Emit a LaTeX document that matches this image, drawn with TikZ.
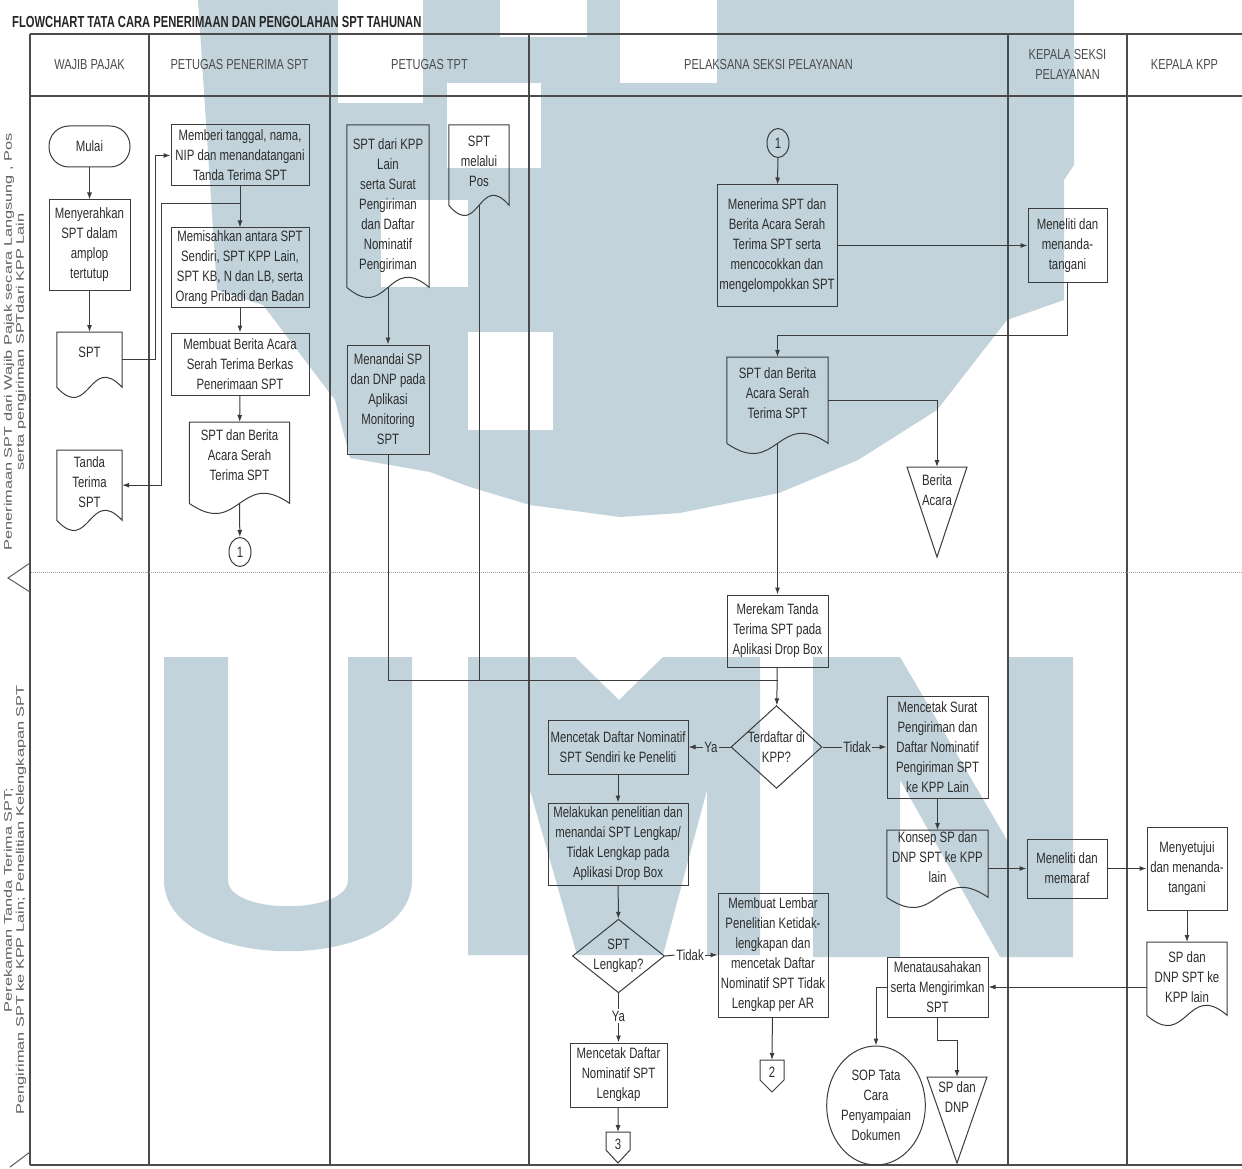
\documentclass[tikz,border=0pt]{standalone}
\usepackage{fontspec}
\setmainfont[FakeStretch=0.76]{Liberation Sans}
\newfontfamily\judulfont[FakeStretch=0.7]{Liberation Sans}
\newfontfamily\fasefont[FakeStretch=1.48]{Liberation Sans}
\usetikzlibrary{arrows.meta,shapes.geometric,calc}

\definecolor{garis}{RGB}{60,60,60}
\definecolor{tulisan}{RGB}{45,45,45}
\definecolor{warnabingkai}{RGB}{75,75,75}
\definecolor{abu}{RGB}{95,95,95}
\definecolor{umn}{RGB}{194,211,220}

\tikzset{
  txt/.style={font=\fontsize{15}{20}\selectfont, text=tulisan, align=center},
  lin/.style={draw=garis, line width=1pt},
  arr/.style={lin, -{Latex[length=7pt,width=5pt]}},
  proses/.style={txt, lin, rectangle, inner sep=1pt},
  mulaibox/.style={txt, lin, rectangle, rounded corners=20pt, inner sep=1pt},
  keputusan/.style={txt, lin, diamond, inner sep=0pt},
  sambung/.style={txt, lin, ellipse, inner sep=0pt, minimum width=22pt, minimum height=29pt},
  dokumen/.style={rectangle, inner sep=0pt, anchor=north},
  doktxt/.style={txt, anchor=north, inner sep=0pt},
  ket/.style={txt, inner sep=1.5pt},
  kepala/.style={txt, font=\fontsize{14.5}{20}\selectfont, text=abu!80!black},
  fase/.style={font=\fasefont\fontsize{11}{12}\selectfont, text=abu, align=center, rotate=90},
  bingkai/.style={draw=warnabingkai, line width=1.5pt},
  sekat/.style={draw=abu!60, line width=1pt, densely dotted},
}

\begin{document}
\begin{tikzpicture}[x=1pt, y=-1pt]
  \useasboundingbox (0,0) rectangle (1242,1169);
  \fill[white] (0,0) rectangle (1242,1169);

  % watermark
  \fill[umn] (198,0) -- (1074,0) -- (1074,165) -- (1064,180) -- (1064,300) -- (1007,320) -- (937,410) -- (858,460) -- (779,493) -- (680,513) -- (620,517) -- (530,505) -- (470,487) -- (430,472) -- (350,458) -- (335,400) -- (263,305) -- (217,290) -- cycle;
  \fill[white] (338,0) rectangle (423,103);
  \fill[white] (500,0) rectangle (587,37);
  \fill[white] (447,83) rectangle (541,168);
  \fill[white] (381,200) rectangle (468,287);
  \fill[white] (468,332) rectangle (553,430);
  \fill[white] (620,0) rectangle (717,83);
  \fill[umn] (164,657) -- (164,880) .. controls (164,975) and (412,975) .. (412,880) -- (412,657) -- (348,657) -- (348,880) .. controls (348,915) and (228,915) .. (228,880) -- (228,657) -- cycle;
  \fill[umn] (468,657) -- (575,657) -- (619,700) -- (663,657) -- (760,657) -- (760,955) -- (707,955) -- (707,790) -- (663,955) -- (577,955) -- (530,790) -- (530,955) -- (468,955) -- cycle;
  \fill[umn] (813,657) -- (900,657) -- (1007,840) -- (1007,657) -- (1073,657) -- (1073,957) -- (1000,957) -- (900,780) -- (900,957) -- (813,957) -- cycle;

  % title
  \node[anchor=west, inner sep=0pt, font=\judulfont\bfseries\fontsize{16}{18}\selectfont, text=black!85] (judul) at (12,22) {FLOWCHART TATA CARA PENERIMAAN DAN PENGOLAHAN SPT TAHUNAN};

  % swimlanes
  \draw[bingkai] (30,34) -- (1242,34);
  \draw[bingkai] (30,96) -- (1242,96);
  \draw[bingkai] (30,1165) -- (1242,1165);
  \draw[bingkai] (30,34) -- (30,1165);
  \foreach \x in {149,330,529,1008,1127} {
    \draw[bingkai] (\x,34) -- (\x,1165);
  }
  \draw[sekat] (31,572) -- (1242,572);

  % lane headers
  \node[kepala] (hwp) at (89.5,65) {WAJIB PAJAK};
  \node[kepala] (hpenerima) at (239.5,65) {PETUGAS PENERIMA SPT};
  \node[kepala] (htpt) at (429.5,65) {PETUGAS TPT};
  \node[kepala] (hpelaksana) at (768.5,65) {PELAKSANA SEKSI PELAYANAN};
  \node[kepala] (hkasi) at (1067.5,64) {KEPALA SEKSI\\PELAYANAN};
  \node[kepala] (hkpp) at (1184.5,65) {KEPALA KPP};

  % phases
  \node[fase] (fase1) at (15,342) {Penerimaan SPT dari Wajib Pajak secara Langsung , Pos\\serta pengiriman SPTdari KPP Lain};
  \node[fase] (fase2) at (15,900) {Perekaman Tanda Terima SPT;\\Pengiriman SPT ke KPP Lain; Penelitian Kelengkapan SPT};
  \draw[lin, draw=abu] (30,563) -- (8,578) -- (30,592);
  \draw[lin, draw=abu] (30,1152) -- (10,1167);

  % wajib pajak
  \node[mulaibox, minimum width=81, minimum height=41] (mulai) at (89.5,146.5) {Mulai};
  \node[proses, minimum width=81, minimum height=90] (serah) at (89.5,245) {Menyerahkan\\SPT dalam\\amplop\\tertutup};
  \node[dokumen, minimum width=65, minimum height=55] (spt) at (89.5,332) {};
  \node[doktxt] (sptT) at ($(spt.north)+(0,15)$) {SPT};
  \node[dokumen, minimum width=65, minimum height=70] (tanda) at (89.5,450) {};
  \node[doktxt] (tandaT) at ($(tanda.north)+(0,6)$) {Tanda\\Terima\\SPT};

  % petugas penerima
  \node[proses, minimum width=138, minimum height=61] (memberi) at (240,155.5) {Memberi tanggal, nama,\\NIP dan menandatangani\\Tanda Terima SPT};
  \node[proses, minimum width=138, minimum height=79] (pisah) at (240,267.5) {Memisahkan antara SPT\\Sendiri, SPT KPP Lain,\\SPT KB, N dan LB, serta\\Orang Pribadi dan Badan};
  \node[proses, minimum width=138, minimum height=62] (berita) at (240,364) {Membuat Berita Acara\\Serah Terima Berkas\\Penerimaan SPT};
  \node[dokumen, minimum width=100, minimum height=81] (sptba1) at (239.5,422) {};
  \node[doktxt] (sptba1T) at ($(sptba1.north)+(0,7)$) {SPT dan Berita\\Acara Serah\\Terima SPT};
  \node[sambung] (con1a) at (240,552) {1};

  % petugas tpt
  \node[dokumen, minimum width=82, minimum height=162] (kpplain) at (388,125) {};
  \node[doktxt] (kpplainT) at ($(kpplain.north)+(0,13)$) {SPT dari KPP\\Lain\\serta Surat\\Pengiriman\\dan Daftar\\Nominatif\\Pengiriman};
  \node[dokumen, minimum width=60, minimum height=80] (pos) at (479,125) {};
  \node[doktxt] (posT) at ($(pos.north)+(0,11)$) {SPT\\melalui\\Pos};
  \node[proses, minimum width=82, minimum height=109] (tandai) at (388,399.5) {Menandai SP\\dan DNP pada\\Aplikasi\\Monitoring\\SPT};

  % pelaksana seksi pelayanan
  \node[sambung] (con1b) at (778,143) {1};
  \node[proses, minimum width=120, minimum height=121] (terima) at (777,245.5) {Menerima SPT dan\\Berita Acara Serah\\Terima SPT serta\\mencocokkan dan\\mengelompokkan SPT};
  \node[dokumen, minimum width=101, minimum height=86] (sptba2) at (777.5,357) {};
  \node[doktxt] (sptba2T) at ($(sptba2.north)+(0,10)$) {SPT dan Berita\\Acara Serah\\Terima SPT};
  \coordinate (ba) at (937,467);
  \draw[lin] ($(ba)+(-30,0)$) -- ($(ba)+(30,0)$) -- ($(ba)+(0,90)$) -- cycle;
  \node[txt] (baT) at ($(ba)+(0,23)$) {Berita\\Acara};
  \node[proses, minimum width=101, minimum height=72] (merekam) at (777.5,631) {Merekam Tanda\\Terima SPT pada\\Aplikasi Drop Box};
  \node[keputusan, aspect=1.1] (daftar) at (776.5,747) {Terdaftar di\\KPP?};
  \node[proses, minimum width=140, minimum height=54] (cetak1) at (618,747) {Mencetak Daftar Nominatif\\SPT Sendiri ke Peneliti};
  \node[proses, minimum width=140, minimum height=82] (teliti2) at (618,844) {Melakukan penelitian dan\\menandai SPT Lengkap/\\Tidak Lengkap pada\\Aplikasi Drop Box};
  \node[keputusan, aspect=1.25] (lengkap) at (618.5,956) {SPT\\Lengkap?};
  \node[proses, minimum width=97, minimum height=64] (cetak2) at (618.5,1075) {Mencetak Daftar\\Nominatif SPT\\Lengkap};
  \coordinate (con3) at (618,1132);
  \draw[lin] ($(con3)+(-12,0)$) -- ($(con3)+(12,0)$) -- ($(con3)+(12,18)$) -- ($(con3)+(0,31)$) -- ($(con3)+(-12,18)$) -- cycle;
  \node[txt] (con3T) at ($(con3)+(0,12)$) {3};
  \node[proses, minimum width=110, minimum height=124] (lembar) at (773,955) {Membuat Lembar\\Penelitian Ketidak-\\lengkapan dan\\mencetak Daftar\\Nominatif SPT Tidak\\Lengkap per AR};
  \coordinate (con2) at (772,1060);
  \draw[lin] ($(con2)+(-12,0)$) -- ($(con2)+(12,0)$) -- ($(con2)+(12,20)$) -- ($(con2)+(0,32)$) -- ($(con2)+(-12,20)$) -- cycle;
  \node[txt] (con2T) at ($(con2)+(0,12)$) {2};
  \node[proses, minimum width=101, minimum height=102] (surat) at (937.5,747) {Mencetak Surat\\Pengiriman dan\\Daftar Nominatif\\Pengiriman SPT\\ke KPP Lain};
  \node[dokumen, minimum width=101, minimum height=67] (konsep) at (937.5,830) {};
  \node[doktxt] (konsepT) at ($(konsep.north)+(0,1)$) {Konsep SP dan\\DNP SPT ke KPP\\lain};
  \node[proses, minimum width=101, minimum height=60] (tatausaha) at (937.5,987) {Menatausahakan\\serta Mengirimkan\\SPT};
  \node[txt, lin, ellipse, inner sep=0pt, minimum width=82, minimum height=119] (sop) at (876,1105.5) {SOP Tata\\Cara\\Penyampaian\\Dokumen};
  \coordinate (spdn) at (957,1077);
  \draw[lin] ($(spdn)+(-30,0)$) -- ($(spdn)+(30,0)$) -- ($(spdn)+(0,86)$) -- cycle;
  \node[txt] (spdnT) at ($(spdn)+(0,20)$) {SP dan\\DNP};

  % kepala seksi and kepala kpp
  \node[proses, minimum width=79, minimum height=73] (teliti1) at (1067.5,245.5) {Meneliti dan\\menanda-\\tangani};
  \node[proses, minimum width=80, minimum height=59] (paraf) at (1067,868.5) {Meneliti dan\\memaraf};
  \node[proses, minimum width=80, minimum height=83] (setuju) at (1187,868.5) {Menyetujui\\dan menanda-\\tangani};
  \node[dokumen, minimum width=80, minimum height=73] (spdnp) at (1187,942) {};
  \node[doktxt] (spdnpT) at ($(spdnp.north)+(0,9)$) {SP dan\\DNP SPT ke\\KPP lain};

  % document outlines
  \foreach \d in {spt,tanda,sptba1,kpplain,pos,sptba2,konsep,spdnp} {
    \draw[lin] (\d.south west) -- (\d.north west) -- (\d.north east) -- (\d.south east)
      .. controls ($(\d.south)+(0,-35)$) and ($(\d.south)+(0,35)$) .. (\d.south west);
  }

  % connectors
  \draw[arr] (mulai) -- (serah);
  \draw[arr] (serah) -- (spt);
  \draw[arr] (spt.east) -- ++(33,0) |- (memberi.west);
  \draw[arr] (memberi) -- (pisah);
  \coordinate (cab) at ($(memberi.south)+(0,17)$);
  \draw[arr] (cab) -- ++(-79,0) |- (tanda.east);
  \draw[arr] (pisah) -- (berita);
  \draw[arr] (berita) -- (sptba1);
  \draw[arr] (sptba1.south) -- (con1a);

  \draw[arr] (kpplain.south) -- (tandai);
  \coordinate (gab) at (778,680);
  \draw[lin] (tandai.south) |- (gab);
  \draw[lin] (pos.south) -- (pos.south |- gab);

  \draw[arr] (con1b) -- (terima);
  \draw[arr] (terima.east) -- (terima.east -| teliti1.west);
  \draw[arr] (teliti1.south) -- ++(0,53) -| (sptba2.north);
  \draw[arr] (sptba2.east) -| (ba);
  \draw[arr] (sptba2.south) -- (merekam);
  \draw[arr] (merekam) -- (daftar);

  \node[ket] (ya1) at (711,747) {Ya};
  \draw[lin] (daftar.west) -- (ya1.east);
  \draw[arr] (ya1.west) -- (cetak1.east);
  \node[ket] (tidak1) at (857,747) {Tidak};
  \draw[lin] (daftar.east) -- (tidak1.west);
  \draw[arr] (tidak1.east) -- (surat.west);

  \draw[arr] (cetak1) -- (teliti2);
  \draw[arr] (teliti2) -- (lengkap);
  \node[ket] (tidak2) at (690,955) {Tidak};
  \draw[lin] (lengkap.east) -- (tidak2.west);
  \draw[arr] (tidak2.east) -- (lembar.west);
  \draw[arr] (lembar) -- (con2);
  \node[ket] (ya2) at (618.5,1016) {Ya};
  \draw[lin] (lengkap.south) -- (ya2.north);
  \draw[arr] (ya2.south) -- (cetak2);
  \draw[arr] (cetak2) -- (con3);

  \draw[arr] (surat) -- (konsep);
  \draw[arr] (konsep.east |- paraf.west) -- (paraf.west);
  \draw[arr] (paraf) -- (setuju);
  \draw[arr] (setuju) -- (spdnp);
  \draw[arr] (spdnp.west |- tatausaha.east) -- (tatausaha.east);
  \draw[arr] (tatausaha.west) -| (sop.north);
  \draw[arr] (tatausaha.south) -- ++(0,23) -| (spdn);
\end{tikzpicture}
\end{document}
